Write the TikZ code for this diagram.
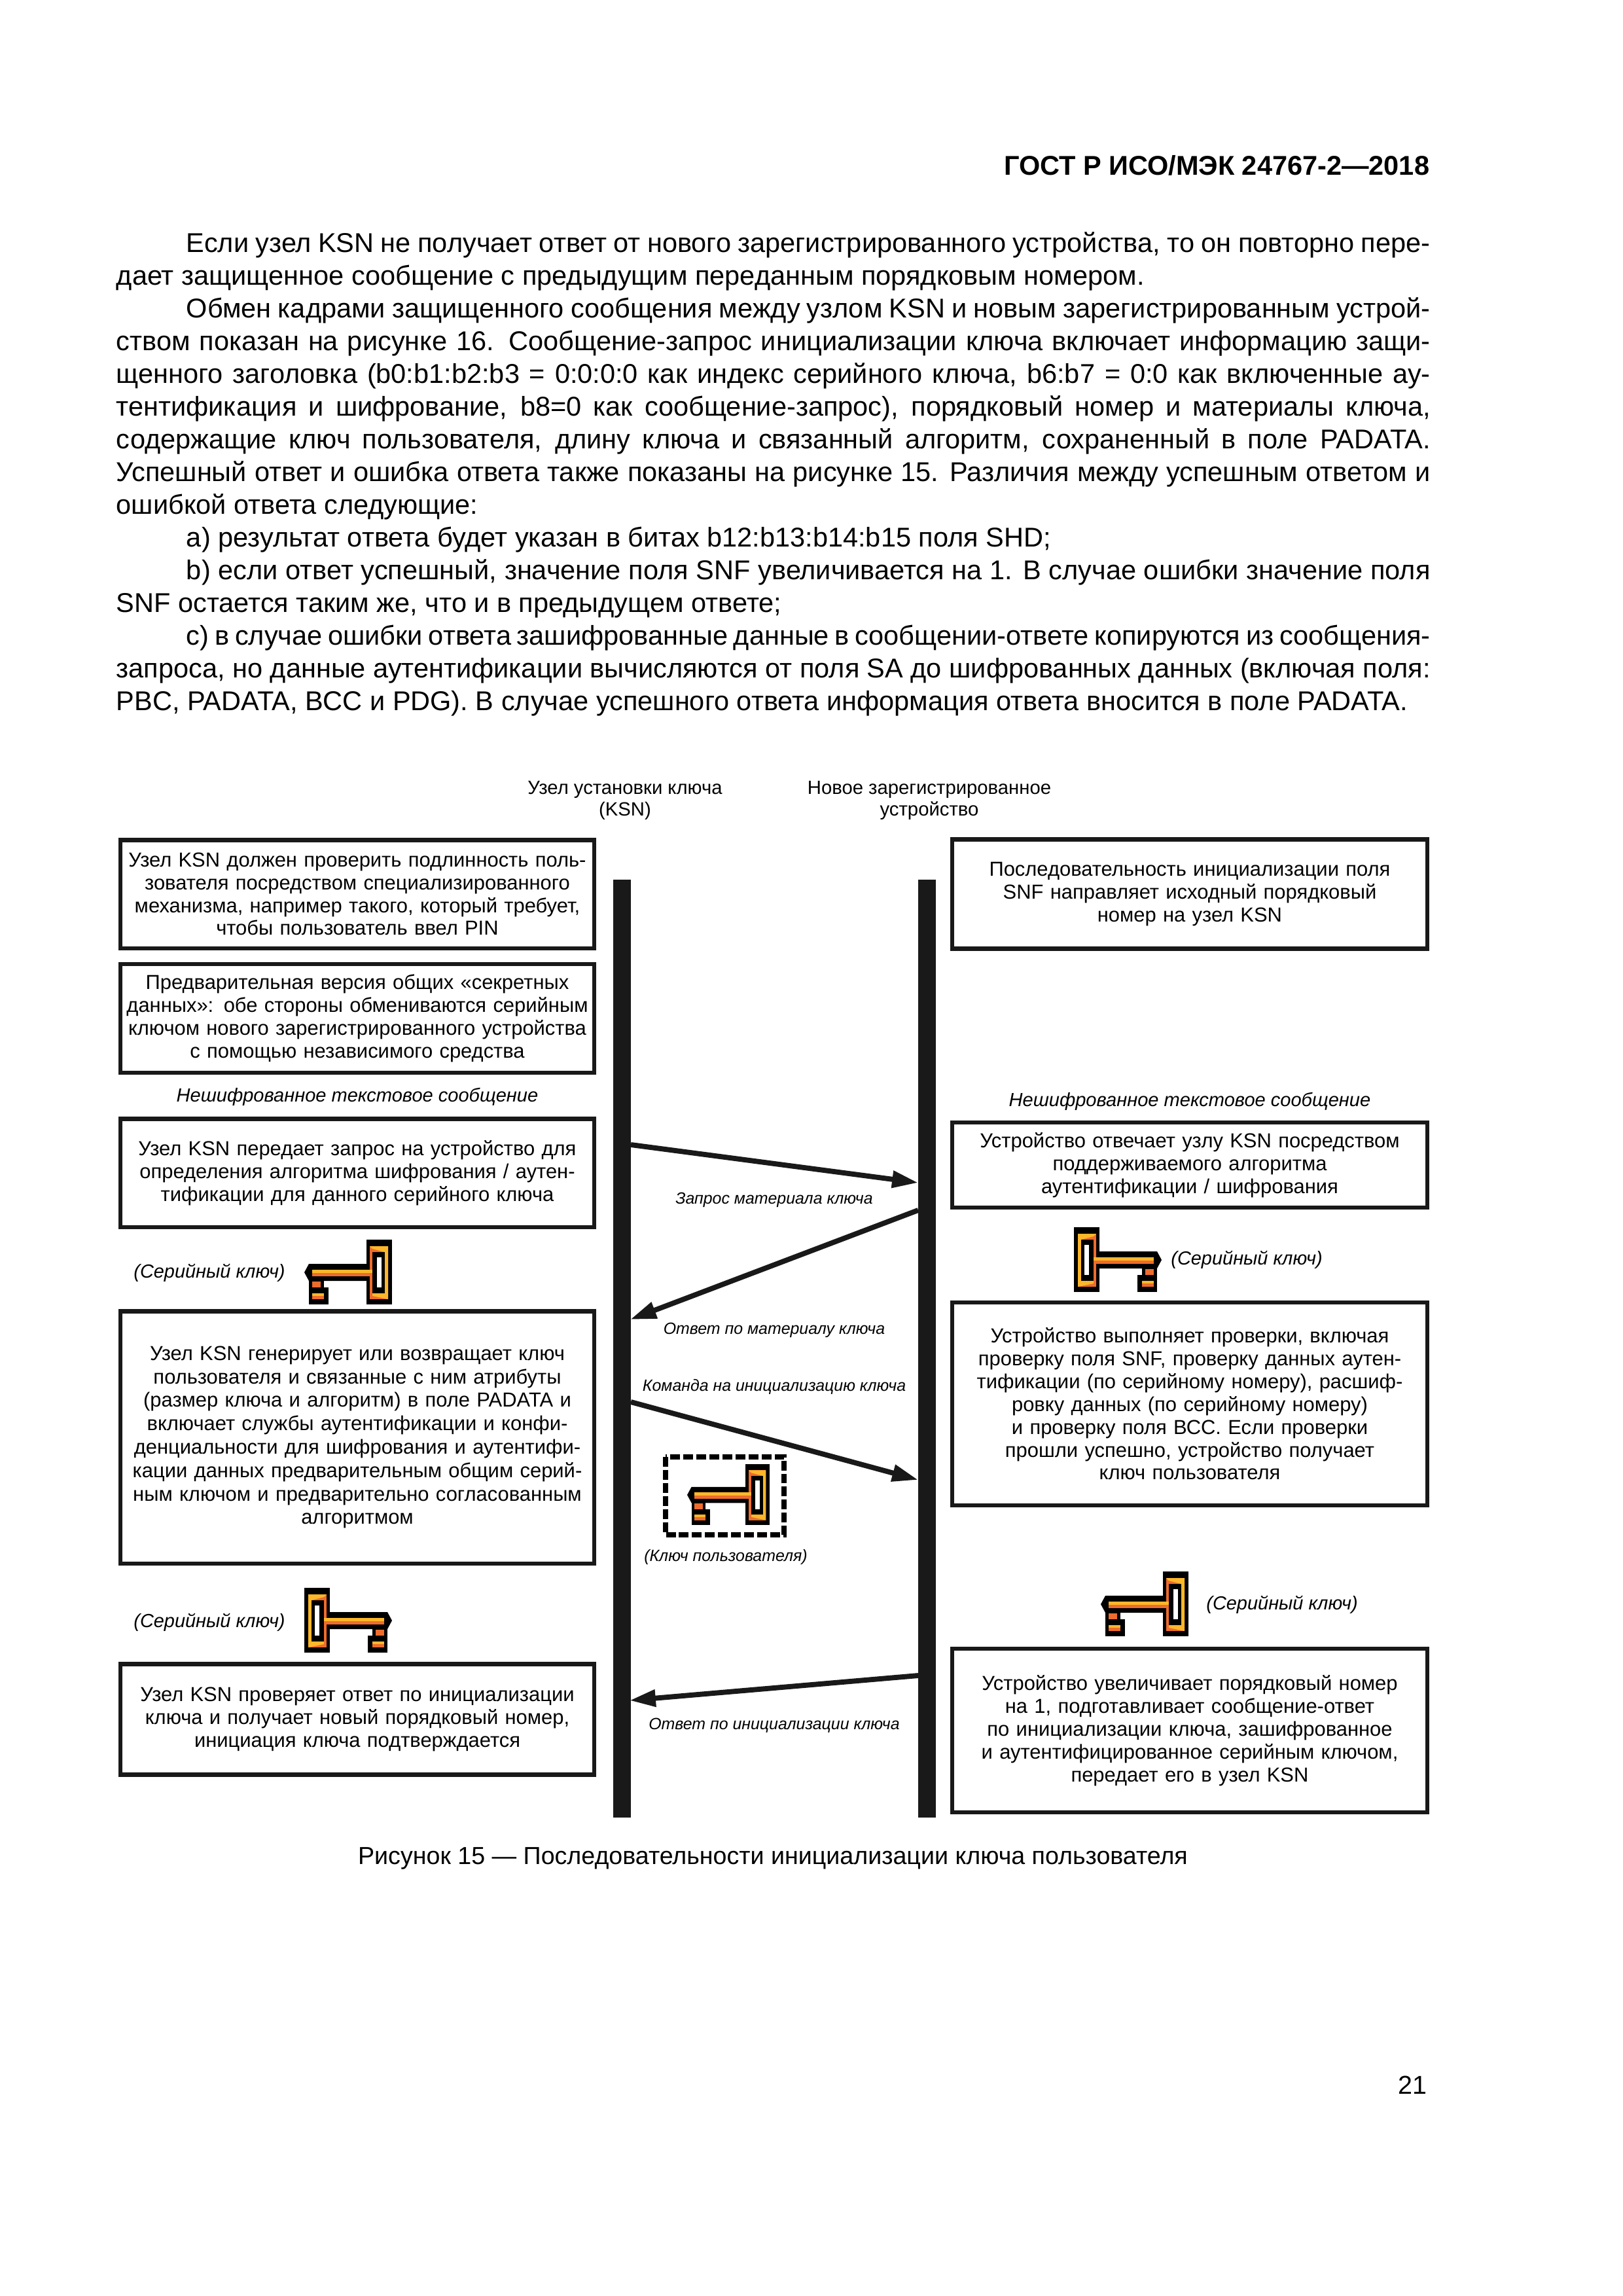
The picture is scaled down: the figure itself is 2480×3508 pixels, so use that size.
\documentclass[tikz,border=0pt]{standalone}
\usepackage{fontspec}
\setmainfont{Liberation Sans}
\usetikzlibrary{arrows.meta}
\definecolor{keyorange}{HTML}{EE6C2D}
\definecolor{keyyellow}{HTML}{FDB72A}

\begin{document}
\begin{tikzpicture}[x=0.2409pt, y=-0.2409pt, >={Triangle[length=9.6pt,width=6pt]}]

% styles
\tikzset{
  msgbox/.style={draw=black!90, line width=1.5pt, inner sep=1pt, text width=172pt, minimum width=174.4pt,
    align=center, font=\fontsize{7.45}{8.4}\selectfont},
  lifeline/.style={line width=6.5pt, draw=black!90},
  msg/.style={->, line width=1.9pt, draw=black!90},
  msglabel/.style={font=\fontsize{6}{7.5}\selectfont\itshape, inner sep=0pt},
  keylabel/.style={font=\fontsize{6.97}{8.4}\selectfont\itshape, inner sep=0pt},
  plainlabel/.style={font=\fontsize{7}{8.4}\selectfont\itshape, inner sep=0pt},
  head/.style={font=\fontsize{7.05}{8.1}\selectfont, align=center, inner sep=0pt},
  keyicon/.pic={
    % outline
    \fill[black] (0,0) rectangle (39,99);
    \fill[black] (39,37) -- (127,37) -- (134,50) -- (127,63) -- (39,63) -- cycle;
    \fill[black] (104,63) rectangle (127,73);
    \fill[black] (97,73) rectangle (127,99);
    % bow
    \fill[keyorange] (6,10) rectangle (34,91);
    \fill[keyyellow] (6,10) -- (34,10) -- (30,14) -- (11,19) -- (11,82) -- (6,91) -- cycle;
    \fill[keyyellow] (11,82) -- (30,82) -- (30,86) -- (6,91) -- cycle;
    \fill[black] (11,19) rectangle (30,82);
    \fill[white] (16,27) rectangle (23,73);
    % shaft
    \fill[keyyellow] (30,46) rectangle (122,51);
    \fill[keyorange] (30,51) rectangle (122,56);
    % bit
    \fill[keyorange] (109,64) rectangle (122,73);
    \fill[keyyellow] (104,82) rectangle (122,86);
    \fill[keyorange] (104,86) rectangle (122,91);
  },
}

\useasboundingbox (0,0) rectangle (2480,3508);

% page head and text
\node[font=\bfseries\fontsize{10}{12}\selectfont, anchor=east, inner sep=0pt] (pagehead) at (2185,253) {ГОСТ Р ИСО/МЭК 24767-2—2018};
\node[anchor=north west, inner sep=0pt, text width=483.7pt, align=justify,
  font=\fontsize{10}{12.05}\selectfont, execute at begin node={\setlength{\parindent}{0pt}\emergencystretch=2em}] (bodytext) at (177,354) {%
\hspace*{25.8pt}Если узел KSN не получает ответ от нового зарегистрированного устройства, то он повторно пере-\linebreak
дает защищенное сообщение с предыдущим переданным порядковым номером.\par
\hspace*{25.8pt}Обмен кадрами защищенного сообщения между узлом KSN и новым зарегистрированным устрой-\linebreak
ством показан на рисунке 16. Сообщение-запрос инициализации ключа включает информацию защи-\linebreak
щенного заголовка (b0:b1:b2:b3 = 0:0:0:0 как индекс серийного ключа, b6:b7 = 0:0 как включенные ау-\linebreak
тентификация и шифрование, b8=0 как сообщение-запрос), порядковый номер и материалы ключа,\linebreak
содержащие ключ пользователя, длину ключа и связанный алгоритм, сохраненный в поле PADATA.\linebreak
Успешный ответ и ошибка ответа также показаны на рисунке 15. Различия между успешным ответом и\linebreak
ошибкой ответа следующие:\par
\hspace*{25.8pt}а) результат ответа будет указан в битах b12:b13:b14:b15 поля SHD;\par
\hspace*{25.8pt}b) если ответ успешный, значение поля SNF увеличивается на 1. В случае ошибки значение поля\linebreak
SNF остается таким же, что и в предыдущем ответе;\par
\hspace*{25.8pt}с) в случае ошибки ответа зашифрованные данные в сообщении-ответе копируются из сообщения-\linebreak
запроса, но данные аутентификации вычисляются от поля SA до шифрованных данных (включая поля:\linebreak
PBC, PADATA, BCC и PDG). В случае успешного ответа информация ответа вносится в поле PADATA.\par};

% lifelines
\coordinate (ksnTop) at (950,1344);
\coordinate (ksnBot) at (950,2777);
\coordinate (devTop) at (1416,1344);
\coordinate (devBot) at (1416,2777);
\draw[lifeline] (ksnTop) -- (ksnBot);
\draw[lifeline] (devTop) -- (devBot);
\node[head] (ksnHead) at (955,1223) {Узел установки ключа\\(KSN)};
\node[head] (devHead) at (1420,1223) {Новое зарегистрированное\\устройство};

% left boxes
\node[msgbox, minimum height=39.8pt] (checkBox) at (546,1366) {Узел KSN должен проверить подлинность поль-\\зователя посредством специализированного\\механизма, например такого, который требует,\\чтобы пользователь ввел PIN};
\node[msgbox, minimum height=40pt] (preBox) at (546,1556) {Предварительная версия общих «секретных\\данных»: обе стороны обмениваются серийным\\ключом нового зарегистрированного устройства\\с помощью независимого средства};
\node[plainlabel] (plainL) at (546,1676) {Нешифрованное текстовое сообщение};
\node[msgbox, minimum height=39.8pt] (reqBox) at (546,1792) {Узел KSN передает запрос на устройство для\\определения алгоритма шифрования / аутен-\\тификации для данного серийного ключа};
\node[msgbox, minimum height=92.8pt, font=\fontsize{7.45}{8.62}\selectfont] (genBox) at (546,2196) {Узел KSN генерирует или возвращает ключ\\пользователя и связанные с ним атрибуты\\(размер ключа и алгоритм) в поле PADATA и\\включает службы аутентификации и конфи-\\денциальности для шифрования и аутентифи-\\кации данных предварительным общим серий-\\ным ключом и предварительно согласованным\\алгоритмом};
\node[msgbox, minimum height=40.7pt] (verBox) at (546,2627) {Узел KSN проверяет ответ по инициализации\\ключа и получает новый порядковый номер,\\инициация ключа подтверждается};

% right boxes
\node[msgbox, minimum width=174.8pt, minimum height=40.2pt] (seqBox) at (1818,1366) {Последовательность инициализации поля\\SNF направляет исходный порядковый\\номер на узел KSN};
\node[plainlabel] (plainR) at (1818,1683) {Нешифрованное текстовое сообщение};
\node[msgbox, minimum width=174.8pt, minimum height=31.3pt] (ansBox) at (1818,1780) {Устройство отвечает узлу KSN посредством\\поддерживаемого алгоритма\\аутентификации / шифрования};
\node[msgbox, minimum width=174.8pt, minimum height=74.7pt] (devcheckBox) at (1818,2145) {Устройство выполняет проверки, включая\\проверку поля SNF, проверку данных аутен-\\тификации (по серийному номеру), расшиф-\\ровку данных (по серийному номеру)\\и проверку поля ВСС. Если проверки\\прошли успешно, устройство получает\\ключ пользователя};
\node[msgbox, minimum width=174.8pt, minimum height=60.2pt] (incBox) at (1818,2644) {Устройство увеличивает порядковый номер\\на 1, подготавливает сообщение-ответ\\по инициализации ключа, зашифрованное\\и аутентифицированное серийным ключом,\\передает его в узел KSN};

% keys
\pic[xscale=-1] (keyA) at (599,1894) {keyicon};
\node[keylabel] (keyAlabel) at (320,1945) {(Серийный ключ)};
\pic (keyB) at (1641,1875) {keyicon};
\node[keylabel] (keyBlabel) at (1905,1925) {(Серийный ключ)};
\pic (keyC) at (465,2426) {keyicon};
\node[keylabel] (keyClabel) at (320,2479) {(Серийный ключ)};
\pic[xscale=-1] (keyD) at (1816,2401) {keyicon};
\node[keylabel] (keyDlabel) at (1959,2452) {(Серийный ключ)};

% user key in dashed frame
\pic[xscale=-0.94, yscale=0.94] (keyE) at (1176,2237) {keyicon};
\draw[line width=2.1pt, dash pattern=on 3.6pt off 1.2pt] (1017,2226) rectangle (1198,2345);
\node[msglabel] (keyElabel) at (1109,2379) {(Ключ пользователя)};

% messages
\coordinate (m1a) at (964,1749);
\coordinate (m1b) at (1403,1807);
\coordinate (m2a) at (1403,1849);
\coordinate (m2b) at (963,2016);
\coordinate (m3a) at (964,2142);
\coordinate (m3b) at (1403,2261);
\coordinate (m4a) at (1403,2560);
\coordinate (m4b) at (962,2598);
\draw[msg] (m1a) -- (m1b);
\draw[msg] (m2a) -- (m2b);
\draw[msg] (m3a) -- (m3b);
\draw[msg] (m4a) -- (m4b);
\node[msglabel] (m1label) at (1183,1833) {Запрос материала ключа};
\node[msglabel] (m2label) at (1183,2032) {Ответ по материалу ключа};
\node[msglabel] (m3label) at (1183,2119) {Команда на инициализацию ключа};
\node[msglabel] (m4label) at (1183,2636) {Ответ по инициализации ключа};

% caption and page number
\node[font=\fontsize{9.06}{12}\selectfont, inner sep=0pt] (caption) at (1181,2839) {Рисунок 15 — Последовательности инициализации ключа пользователя};
\node[font=\fontsize{9.5}{12}\selectfont, anchor=east, inner sep=0pt] (pagenum) at (2181,3186) {21};

\end{tikzpicture}
\end{document}
